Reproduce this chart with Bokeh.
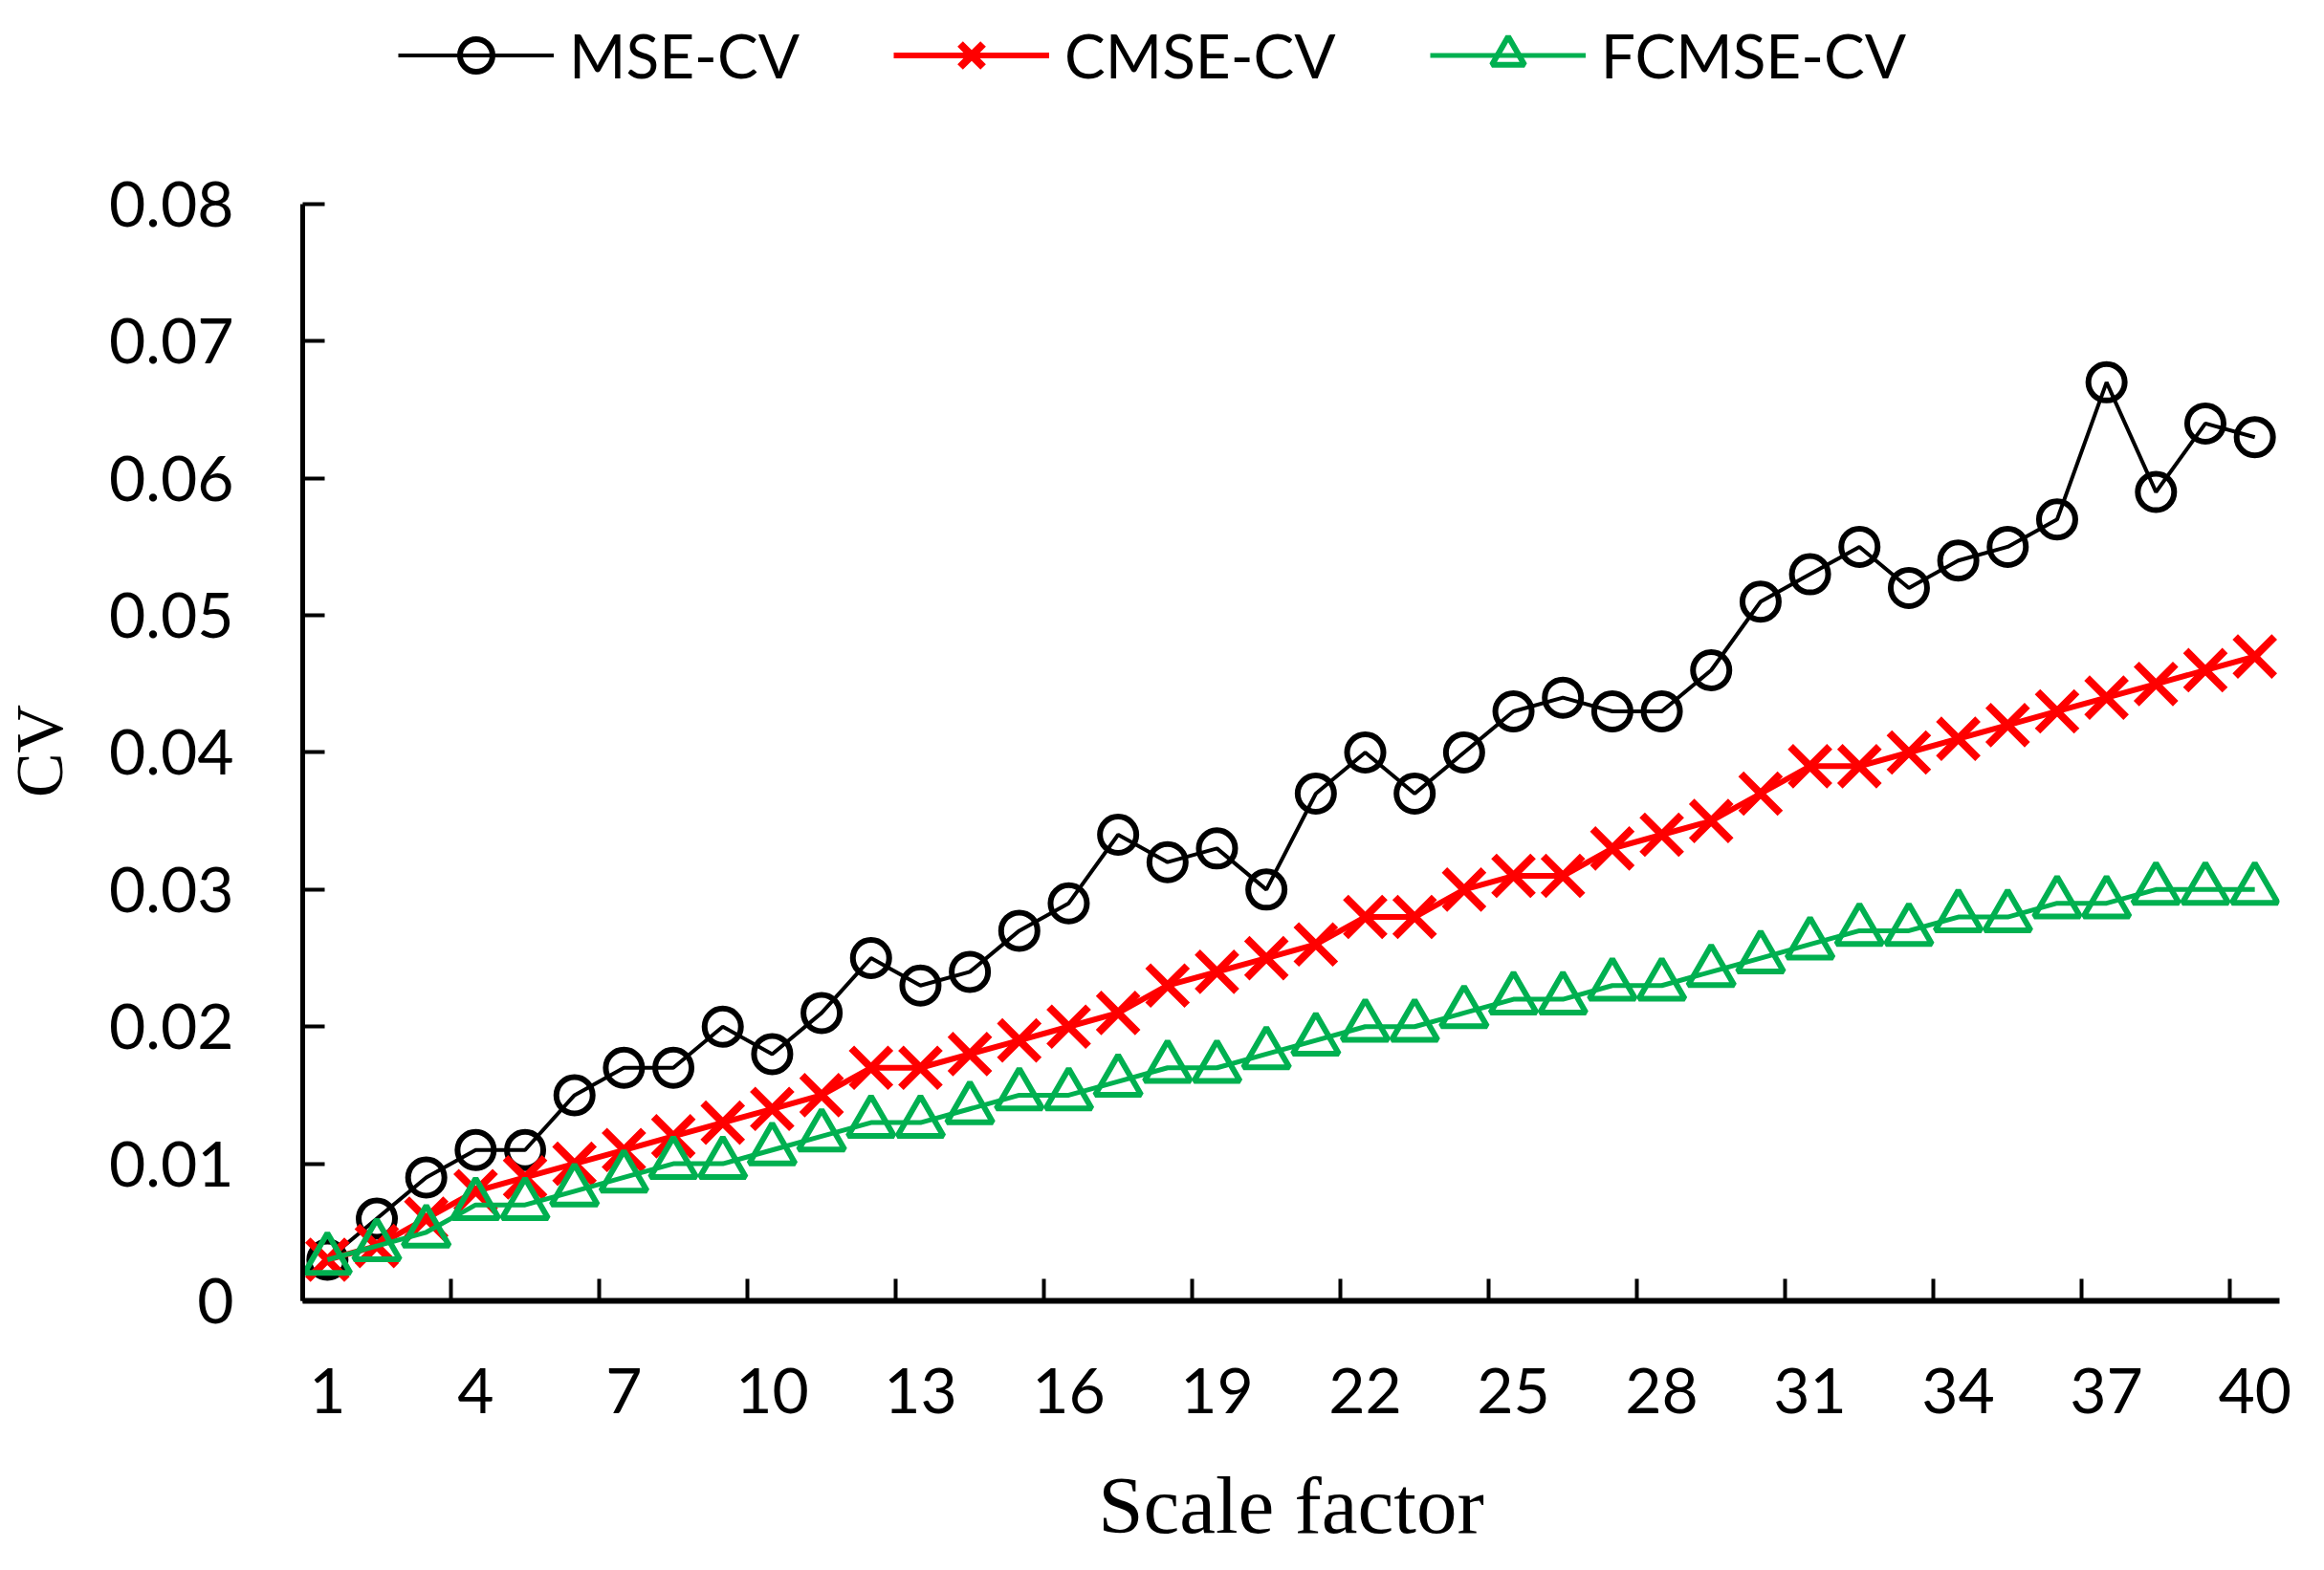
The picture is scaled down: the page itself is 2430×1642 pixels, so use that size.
from bokeh.plotting import figure
from bokeh.models import FixedTicker, NumeralTickFormatter, Legend, LegendItem, Range1d
from bokeh.embed import file_html
from bokeh.resources import INLINE

scale_factor = list(range(1, 41))
mse_cv = [0.003, 0.006, 0.009, 0.011, 0.011, 0.015, 0.017, 0.017, 0.020, 0.018,
          0.021, 0.025, 0.023, 0.024, 0.027, 0.029, 0.034, 0.032, 0.033, 0.030,
          0.037, 0.040, 0.037, 0.040, 0.043, 0.044, 0.043, 0.043, 0.046, 0.051,
          0.053, 0.055, 0.052, 0.054, 0.055, 0.057, 0.067, 0.059, 0.064, 0.063]
cmse_cv = [0.003, 0.004, 0.006, 0.008, 0.009, 0.010, 0.011, 0.012, 0.013, 0.014,
           0.015, 0.017, 0.017, 0.018, 0.019, 0.020, 0.021, 0.023, 0.024, 0.025,
           0.026, 0.028, 0.028, 0.030, 0.031, 0.031, 0.033, 0.034, 0.035, 0.037,
           0.039, 0.039, 0.040, 0.041, 0.042, 0.043, 0.044, 0.045, 0.046, 0.047]
fcmse_cv = [0.003, 0.004, 0.005, 0.007, 0.007, 0.008, 0.009, 0.010, 0.010, 0.011,
            0.012, 0.013, 0.013, 0.014, 0.015, 0.015, 0.016, 0.017, 0.017, 0.018,
            0.019, 0.020, 0.020, 0.021, 0.022, 0.022, 0.023, 0.023, 0.024, 0.025,
            0.026, 0.027, 0.027, 0.028, 0.028, 0.029, 0.029, 0.030, 0.030, 0.030]
x_tick_labels = [1, 4, 7, 10, 13, 16, 19, 22, 25, 28, 31, 34, 37, 40]
x_tick_marks = [0.5, 3.5, 6.5, 9.5, 12.5, 15.5, 18.5, 21.5, 24.5, 27.5, 30.5, 33.5, 36.5, 39.5]
y_ticks = [0, 0.01, 0.02, 0.03, 0.04, 0.05, 0.06, 0.07, 0.08]
y_axis_max = 0.08
# extra headroom above the axis so the legend sits inside the frame
y_view_max = 0.0948536

TICK_FONT = "Lato"
SERIF = "Liberation Serif"
NBSP = "\u00a0"

p = figure(width=2414, height=1626, output_backend="svg", toolbar_location=None,
           title=None,
           x_range=Range1d(0.5, 40.5), y_range=Range1d(0, y_view_max),
           min_border_left=308, min_border_right=31, min_border_top=0, min_border_bottom=266)
p.outline_line_color = None
p.xgrid.visible = False
p.ygrid.visible = False
p.background_fill_color = "white"

xa = p.xaxis[0]
xa.ticker = FixedTicker(ticks=x_tick_labels, minor_ticks=x_tick_marks)
xa.major_tick_line_color = None
xa.minor_tick_in = 23
xa.minor_tick_out = 0
xa.minor_tick_line_width = 4
xa.minor_tick_line_color = "black"
xa.axis_line_width = 6
xa.axis_line_color = "black"
xa.major_label_text_font = TICK_FONT
xa.major_label_text_font_size = "66px"
xa.major_label_text_color = "black"
xa.major_label_standoff = 64
xa.axis_label = "Scale factor"
xa.axis_label_text_font = SERIF
xa.axis_label_text_font_size = "85px"
xa.axis_label_text_font_style = "normal"
xa.axis_label_text_color = "black"
xa.axis_label_standoff = 46

ya = p.yaxis[0]
ya.ticker = FixedTicker(ticks=y_ticks)
ya.bounds = (0, y_axis_max)
ya.formatter = NumeralTickFormatter(format="0.[00]")
ya.major_tick_in = 23
ya.major_tick_out = 0
ya.major_tick_line_width = 4
ya.major_tick_line_color = "black"
ya.minor_tick_line_color = None
ya.axis_line_width = 5
ya.axis_line_color = "black"
ya.major_label_text_font = TICK_FONT
ya.major_label_text_font_size = "66px"
ya.major_label_text_color = "black"
ya.major_label_standoff = 72
# trailing no-break spaces centre the visible "CV" on the 0-0.08 span
ya.axis_label = "CV" + NBSP * 12
ya.axis_label_text_font = SERIF
ya.axis_label_text_font_size = "70px"
ya.axis_label_text_font_style = "normal"
ya.axis_label_text_color = "black"
ya.axis_label_standoff = 31

BLACK = "black"
RED = "#FF0000"
GREEN = "#00B050"

r1l = p.line(scale_factor, mse_cv, line_color=BLACK, line_width=4)
r1s = p.scatter(scale_factor, mse_cv, marker="circle", size=38, fill_color=None,
                line_color=BLACK, line_width=6)
r2l = p.line(scale_factor, cmse_cv, line_color=RED, line_width=6)
r2s = p.scatter(scale_factor, cmse_cv, marker="x", size=58, line_color=RED, line_width=8)
r3l = p.line(scale_factor, fcmse_cv, line_color=GREEN, line_width=5)
r3s = p.scatter(scale_factor, fcmse_cv, marker="triangle", size=48, fill_color=None,
                line_color=GREEN, line_width=6)

legend = Legend(items=[LegendItem(label="MSE-CV", renderers=[r1l, r1s]),
                       LegendItem(label="CMSE-CV", renderers=[r2l, r2s]),
                       LegendItem(label="FCMSE-CV", renderers=[r3l, r3s])],
                orientation="horizontal", location=(100, 1260),
                glyph_width=163, glyph_height=85, label_standoff=16, spacing=98,
                padding=0, margin=0, border_line_color=None, background_fill_alpha=0,
                label_text_font=TICK_FONT, label_text_font_size="64px",
                label_text_color="black")
p.add_layout(legend, "center")

open("out.html", "w").write(file_html(p, INLINE))
